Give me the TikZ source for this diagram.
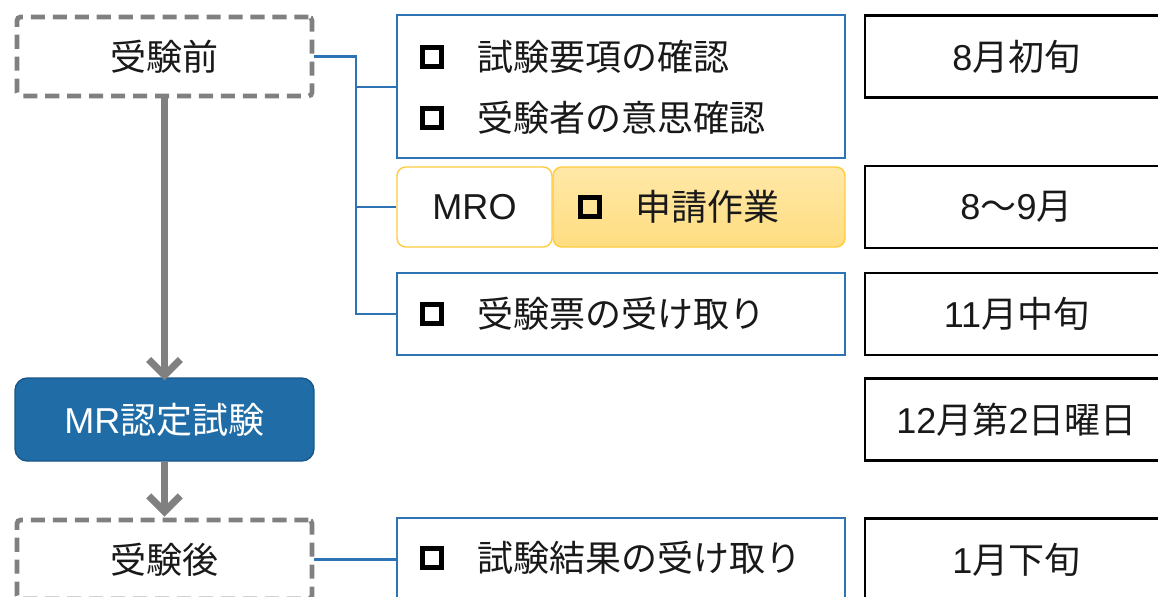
\documentclass[tikz,border=0pt]{standalone}
\usepackage{fontspec}
\setmainfont{Noto Sans CJK JP}
\newfontfamily\enfont{Liberation Sans}
\usetikzlibrary{arrows.meta,calc,positioning}

\definecolor{flowgray}{HTML}{808080}
\definecolor{examblue}{HTML}{1F6CA6}
\definecolor{lineblue}{HTML}{2E74B5}
\definecolor{mroyellow}{HTML}{FFCB3C}

\begin{document}
\begin{tikzpicture}[x=0.02cm,y=-0.02cm,
        every node/.append style={font=\fontsize{20.5}{24}\selectfont,text=black!90,inner sep=0pt},
        phase/.style={draw=flowgray,dash pattern=on 8pt off 4.5pt,line width=2.7pt,rounded corners=2pt,
            minimum width=5.9cm,minimum height=1.58cm},
        exam/.style={draw=examblue!80!black,fill=examblue,rounded corners=7pt,line width=0.8pt,
            minimum width=5.98cm,minimum height=1.66cm,text=white},
        listbox/.style={draw=lineblue,line width=1.6pt,minimum width=8.96cm},
        datebox/.style={draw=black,line width=1.5pt,minimum width=6.06cm,minimum height=1.64cm},
        mrobox/.style={draw=mroyellow,line width=0.8pt,rounded corners=5pt,minimum height=1.6cm},
        chk/.style={draw=black,line width=0.11cm,minimum size=0.38cm},
        item/.style={anchor=west},
        flow/.style={draw=flowgray,line width=4pt,-{Straight Barb[length=9pt,width=18pt,line width=4pt]}},
        link/.style={draw=lineblue,line width=1.6pt}
    ]
    \clip (0,0) rectangle (1158,596);

    % left column
    \node[phase] (pre) at (164.5,56.5) {受験前};
    \node[exam] (exam) at (164.5,419.5) {{\enfont MR}認定試験};
    \node[phase] (post) at (164.5,559.5) {受験後};
    \draw[flow] (pre.south) -- ($(exam.north)+(0,3)$);
    \draw[flow] (exam.south) -- ($(post.north)+(0,-1)$);

    % tasks
    \node[listbox,minimum height=2.86cm] (req) at (621,86.5) {};
    \node[chk] (c1) at (432,57) {};
    \node[item] at (477,57) {試験要項の確認};
    \node[chk] (c2) at (432,118) {};
    \node[item] at (477,118) {受験者の意思確認};

    \node[mrobox,fill=white,minimum width=3.1cm] (mro) at (474.5,207) {\enfont MRO};
    \node[mrobox,top color=mroyellow!45,bottom color=mroyellow!65,minimum width=5.84cm] (apply) at (699,207) {};
    \node[chk] (c3) at (590,207) {};
    \node[item] at (635,207) {申請作業};

    \node[listbox,minimum height=1.64cm] (ticket) at (621,314) {};
    \node[chk] (c4) at (432,314) {};
    \node[item] at (477,314) {受験票の受け取り};

    \node[listbox,minimum height=1.66cm] (result) at (621,559.5) {};
    \node[chk] (c5) at (432,558) {};
    \node[item] at (477,558) {試験結果の受け取り};

    \coordinate (fork) at (356,56.5);
    \draw[link] (pre.east) -- (fork) -- (fork |- ticket.west) -- (ticket.west);
    \draw[link] (fork |- 0,87) -- (req.west |- 0,87);
    \draw[link] (fork |- mro.west) -- (mro.west);
    \draw[link] (post.east) -- (result.west);

    % dates
    \node[datebox] (d1) at (1016.5,56.5) {{\enfont 8}月初旬};
    \node[datebox] (d2) at (1016.5,207) {{\enfont 8}〜{\enfont 9}月};
    \node[datebox] (d3) at (1016.5,314) {{\enfont 11}月中旬};
    \node[datebox] (d4) at (1016.5,419.5) {{\enfont 12}月第{\enfont 2}日曜日};
    \node[datebox] (d5) at (1016.5,559.5) {{\enfont 1}月下旬};
\end{tikzpicture}
\end{document}
